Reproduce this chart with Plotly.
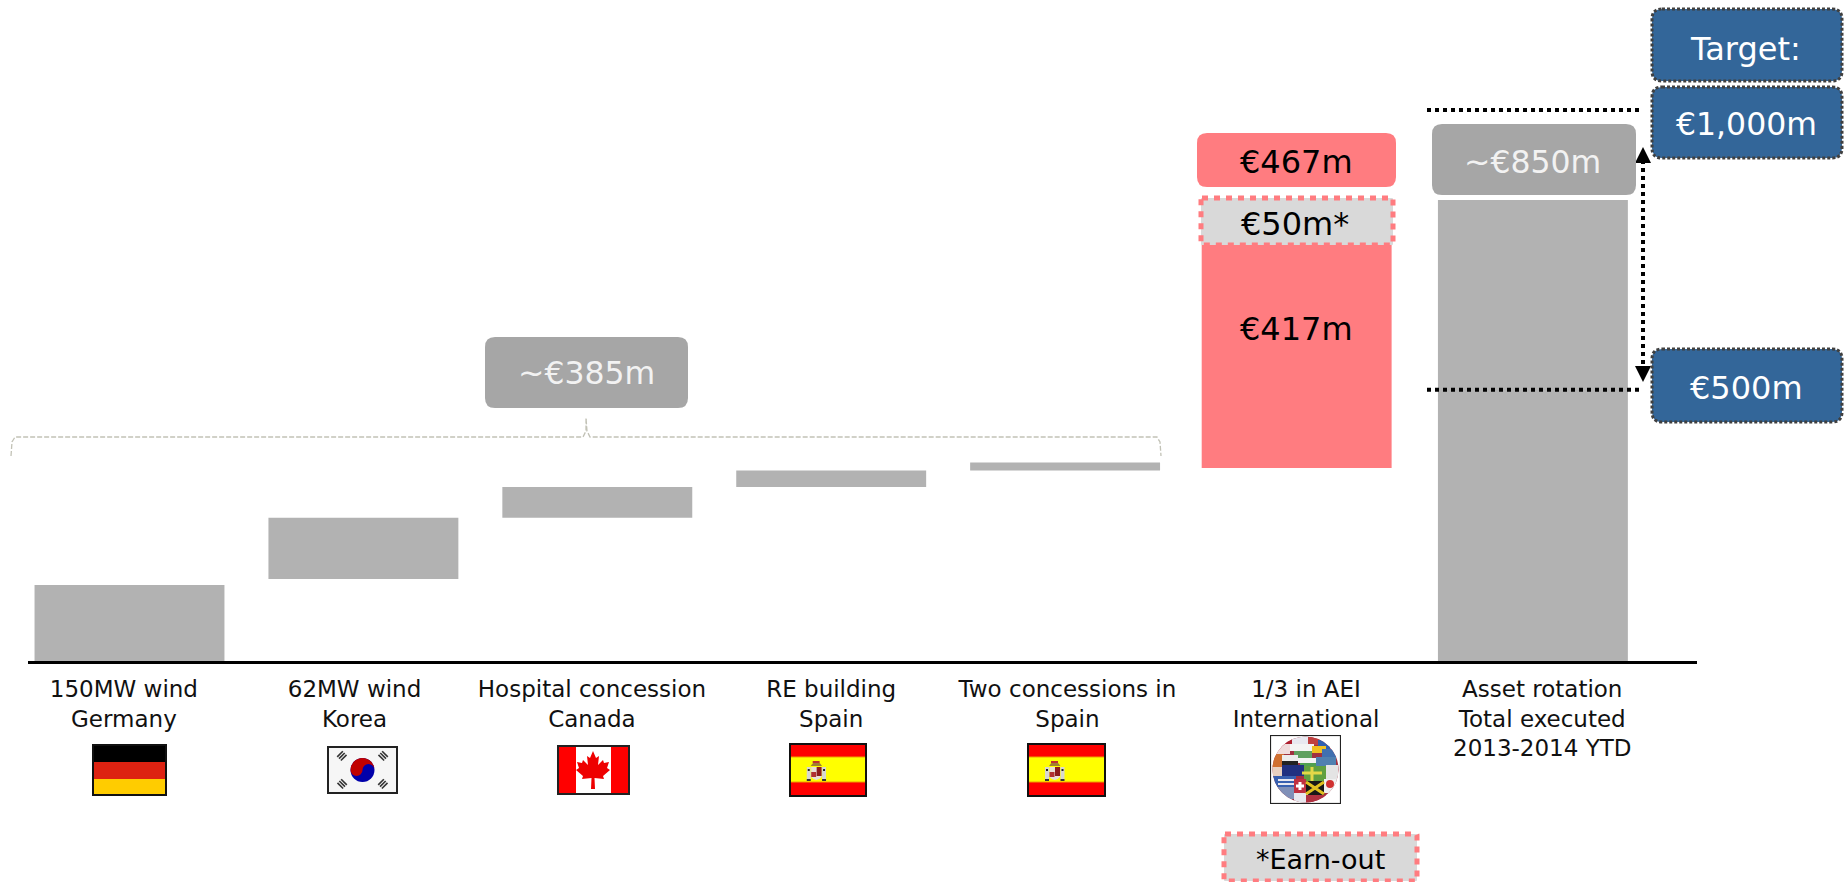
import base64
import plotly.graph_objects as go

# ---------- data ----------
categories = ["150MW wind<br>Germany", "62MW wind<br>Korea", "Hospital concession<br>Canada",
              "RE building<br>Spain", "Two concessions in<br>Spain", "1/3 in AEI<br>International",
              "Asset rotation<br>Total executed<br>2013-2014 YTD"]
bar_position = [0, 1, 2, 3, 4, 4.99, 6]
bar_base = [0, 151, 264, 321, 351, 356, 0]
bar_value = [140, 113, 57, 30, 15, 417, 850]
target_low = 500
target_high = 1016
label_positions = [-0.024, 0.962, 1.977, 3, 4.01, 5.03, 6.04]

# ---------- canvas ----------
W, H = 1848, 882
L, R, BASE = 28, 1697, 661
PX_PER_UNIT = 0.5424
STEP = 233.9
FIRST = 129.5
GREY, BOX_GREY, RED, BLUE, LIGHT = "#b2b2b2", "#a6a6a6", "#ff7c80", "#336699", "#d9d9d9"
FONT = "DejaVu Sans"


def px(x):
    return (x - L) / (R - L)


def py(y):
    return (BASE - y) / BASE


def rounded(x0, y0, x1, y1, r=10):
    a, b, c, d = px(x0), px(x1), py(y0), py(y1)
    rx, ry = r / (R - L), r / BASE
    return (f"M{a+rx},{c} L{b-rx},{c} Q{b},{c} {b},{c-ry} L{b},{d+ry} Q{b},{d} {b-rx},{d} "
            f"L{a+rx},{d} Q{a},{d} {a},{d+ry} L{a},{c-ry} Q{a},{c} {a+rx},{c} Z")


fig = go.Figure()
fig.add_bar(x=bar_position, y=bar_value, base=bar_base, width=0.812,
            marker=dict(color=[GREY] * 5 + [RED, GREY], line_width=0), hoverinfo="skip")

shapes, annos = [], []


def box(x0, y0, x1, y1, text, fill, color, size, line=None, dash=None, lw=0, r=10, tx=None, ty=None):
    shapes.append(dict(type="path", path=rounded(x0, y0, x1, y1, r), xref="paper", yref="paper",
                       fillcolor=fill, line=dict(color=line or fill, width=lw, dash=dash or "solid"),
                       layer="above"))
    annos.append(dict(text=text, xref="paper", yref="paper", showarrow=False, xanchor="center",
                      yanchor="middle", x=px(tx if tx is not None else (x0 + x1) / 2),
                      y=py(ty if ty is not None else (y0 + y1) / 2),
                      font=dict(family=FONT, size=size, color=color)))


# target reference lines
for v in (target_low, target_high):
    shapes.append(dict(type="line", xref="paper", yref="y", x0=px(1427), x1=px(1640), y0=v, y1=v,
                       line=dict(color="#000000", width=4, dash="4px,4px"), layer="above"))

# double arrow
shapes.append(dict(type="line", xref="paper", yref="paper", x0=px(1643), x1=px(1643), y0=py(160), y1=py(370),
                   line=dict(color="#000000", width=4, dash="4px,4px"), layer="above"))
for tip, bot in ((147, 163), (382, 366)):
    a, b, c = px(1635), px(1651), px(1643)
    shapes.append(dict(type="path", xref="paper", yref="paper", fillcolor="#000000", line_width=0,
                       path=f"M{a},{py(bot)} L{b},{py(bot)} L{c},{py(tip)} Z", layer="above"))

# bracket above the five disposals
bracket = [(11, 456), (12, 442), (15, 437), (583, 437), (586, 431), (586, 418), (587, 431), (590, 437),
           (1157, 437), (1160, 442), (1161, 456)]
shapes.append(dict(type="path", xref="paper", yref="paper",
                   path="M" + " L".join(f"{px(a)},{py(b)}" for a, b in bracket),
                   line=dict(color="#c2c2b6", width=1.3, dash="5px,2px"), layer="above"))

# label boxes
box(485, 337, 688, 408, "~€385m", BOX_GREY, "#f2f2f2", 31.5, ty=373)
box(1197, 133, 1396, 187, "€467m", RED, "#000000", 32, tx=1296, ty=162)
box(1201, 198, 1393, 245, "€50m*", LIGHT, "#000000", 32, line=RED, dash="6px,6px", lw=5, r=1, tx=1295, ty=224)
box(1432, 124, 1636, 195, "~€850m", BOX_GREY, "#f2f2f2", 31.5, tx=1532, ty=162)
box(1652, 9, 1842, 81, "Target:", BLUE, "#ffffff", 32, line="#404040", dash="3px,2px", lw=3, tx=1745, ty=49)
box(1652, 87, 1842, 158, "€1,000m", BLUE, "#ffffff", 31.5, line="#404040", dash="3px,2px", lw=3, tx=1746, ty=124)
box(1652, 349, 1842, 422, "€500m", BLUE, "#ffffff", 32, line="#404040", dash="3px,2px", lw=3, tx=1746, ty=388)
box(1224, 834, 1417, 881, "*Earn-out", LIGHT, "#000000", 27, line=RED, dash="6px,6px", lw=5, r=1, tx=1320, ty=859)
annos.append(dict(text="€417m", xref="paper", yref="paper", showarrow=False, x=px(1296), y=py(329),
                  xanchor="center", yanchor="middle", font=dict(family=FONT, size=32, color="#000000")))


# ---------- flags (vector pictures) ----------
def svg(w, h, body):
    s = f'<svg xmlns="http://www.w3.org/2000/svg" viewBox="0 0 {w} {h}" width="{w*4}" height="{h*4}">{body}</svg>'
    return "data:image/svg+xml;base64," + base64.b64encode(s.encode()).decode()


germany = svg(75, 52, '<rect width="75" height="18" y="0" fill="#000"/><rect width="75" height="17" y="18" fill="#dd2211"/>'
                      '<rect width="75" height="17" y="35" fill="#ffcc00"/>'
                      '<rect x="1" y="1" width="73" height="50" fill="none" stroke="#111" stroke-width="2"/>')


def trigram(cx, cy, ang):
    bars = "".join(f'<rect x="-4" y="{-3.6+i*2.6}" width="8" height="1.6" fill="#333"/>' for i in range(3))
    return f'<g transform="translate({cx},{cy}) rotate({ang})">{bars}</g>'


korea = svg(71, 48, '<rect width="71" height="48" fill="#f6f6f6"/>'
            '<circle cx="35.5" cy="24" r="12" fill="#0000aa"/>'
            '<path d="M23.5 24 A12 12 0 0 1 47.5 24 A6 6 0 0 0 35.5 24 A6 6 0 0 1 23.5 24 Z" fill="#c00000"/>'
            + trigram(15, 10, -45) + trigram(56, 10, 45) + trigram(15, 38, 45) + trigram(56, 38, -45) +
            '<rect x="1" y="1" width="69" height="46" fill="none" stroke="#222" stroke-width="2"/>')

leaf = ("36,6 39,13 42,11 41,20 46,15 47,18 52,17 50,23 53,25 46,31 47,34 37.5,33 38,44 34,44 34.5,33 "
        "25,34 26,31 19,25 22,23 20,17 25,18 26,15 31,20 30,11 33,13")
canada = svg(73, 50, f'<rect width="73" height="50" fill="#fff"/><rect width="19" height="50" fill="#ff0000"/>'
             f'<rect x="54" width="19" height="50" fill="#ff0000"/><polygon points="{leaf}" fill="#ee0000"/>'
             '<rect x="1" y="1" width="71" height="48" fill="none" stroke="#222" stroke-width="2"/>')

crest = ('<rect x="18" y="24" width="4" height="13" fill="#d8d8d0"/><rect x="33.5" y="24" width="4" height="13" fill="#d8d8d0"/>'
         '<rect x="19" y="26" width="2" height="2" fill="#222"/><rect x="34.5" y="26" width="2" height="2" fill="#222"/>'
         '<rect x="18" y="36" width="4" height="2" fill="#333"/><rect x="33.5" y="36" width="4" height="2" fill="#333"/>'
         '<path d="M22.5 24 H33 V34 Q27.7 40 22.5 34 Z" fill="#e8e0d8"/>'
         '<rect x="28" y="24" width="5" height="9" fill="#8c1c1c"/><rect x="22.5" y="29" width="5" height="5" fill="#b03030"/>'
         '<path d="M22 23 Q27.7 14 33.5 23 Z" fill="#a08030"/><rect x="24" y="18" width="7" height="2" fill="#c03030"/>')
spain = svg(79, 54, '<rect width="79" height="54" fill="#ff0000"/><rect y="14" width="79" height="25" fill="#ffff00"/>'
            '<rect y="13.5" width="79" height="1" fill="#f0a000"/><rect y="38.5" width="79" height="1" fill="#f0a000"/>'
            + crest + '<rect x="1" y="1" width="77" height="52" fill="none" stroke="#111" stroke-width="2"/>')

patches = [(8, 2, 14, 9, "#b02030"), (22, 1, 16, 9, "#e8e8f0"), (38, 2, 12, 8, "#c04040"), (48, 5, 12, 9, "#3060b0"),
           (4, 9, 16, 10, "#f0dcdc"), (20, 9, 24, 7, "#f4f4f4"), (24, 16, 18, 7, "#60a060"), (42, 11, 14, 7, "#f0c020"),
           (52, 14, 14, 9, "#4070b0"), (2, 19, 12, 13, "#d07030"), (12, 20, 16, 6, "#ececec"), (12, 26, 16, 4, "#222222"),
           (28, 23, 22, 5, "#f4f4f4"), (30, 28, 16, 3, "#50a050"), (46, 22, 20, 9, "#5080b0"), (2, 32, 12, 9, "#e8d0c0"),
           (12, 30, 22, 11, "#203080"), (34, 31, 22, 15, "#60a040"), (56, 30, 12, 14, "#e4e4e4"), (2, 41, 24, 11, "#3860b0"),
           (8, 44, 16, 2, "#e8e8f0"), (8, 48, 16, 2, "#e8e8f0"), (24, 44, 12, 14, "#c03040"), (36, 46, 18, 14, "#181818"),
           (54, 44, 14, 14, "#f0f0f0"), (8, 52, 16, 12, "#8090b8"), (24, 58, 14, 10, "#e8e8ee"), (36, 60, 20, 8, "#b03040")]
rects = "".join(f'<rect x="{a}" y="{b}" width="{c}" height="{d}" fill="{e}"/>' for a, b, c, d, e in patches)
globe = svg(71, 69, '<rect width="71" height="69" fill="#fff"/><defs><clipPath id="g"><circle cx="35.5" cy="34.5" r="33"/></clipPath></defs>'
            f'<g clip-path="url(#g)"><rect width="71" height="69" fill="#a03040"/>{rects}'
            '<path d="M36 47 L54 59 M54 47 L36 59" stroke="#e0c020" stroke-width="3"/>'
            '<path d="M32 38 H52 M42 32 V46" stroke="#e4d848" stroke-width="3"/>'
            '<path d="M26 51 H34 M30 47 V55" stroke="#ffffff" stroke-width="3"/>'
            '<circle cx="60" cy="49" r="4" fill="#d03030"/></g>'
            '<rect x="0.5" y="0.5" width="70" height="68" fill="none" stroke="#222" stroke-width="1.2"/>')

flag_boxes = [(germany, 92, 744, 167, 796), (korea, 327, 746, 398, 794), (canada, 557, 745, 630, 795),
              (spain, 789, 743, 867, 797), (spain, 1027, 743, 1106, 797), (globe, 1270, 735, 1341, 804)]
images = [dict(source=s, xref="paper", yref="paper", x=px(a), y=py(b), sizex=(c - a) / (R - L), sizey=(d - b) / BASE,
               xanchor="left", yanchor="top", sizing="stretch", layer="above") for s, a, b, c, d in flag_boxes]

fig.update_layout(
    width=W, height=H, margin=dict(l=L, r=W - R, t=0, b=H - BASE, pad=0, autoexpand=False),
    paper_bgcolor="#ffffff", plot_bgcolor="#ffffff", showlegend=False, hovermode=False,
    shapes=shapes, annotations=annos, images=images,
    xaxis=dict(range=[(L - FIRST) / STEP, (R - FIRST) / STEP], tickmode="array", tickvals=label_positions,
               ticktext=categories, tickangle=0, ticks="outside", ticklen=5, tickcolor="rgba(0,0,0,0)",
               showgrid=False, zeroline=False, showline=True, linecolor="#000000", linewidth=3,
               tickfont=dict(family=FONT, size=23, color="#111111"), automargin=False),
    yaxis=dict(range=[0, BASE / PX_PER_UNIT], visible=False, showgrid=False, zeroline=False, automargin=False),
)
fig.write_html("out.html", config=dict(displayModeBar=False),
               post_script="document.body.style.margin='0';document.body.style.overflow='hidden';")
